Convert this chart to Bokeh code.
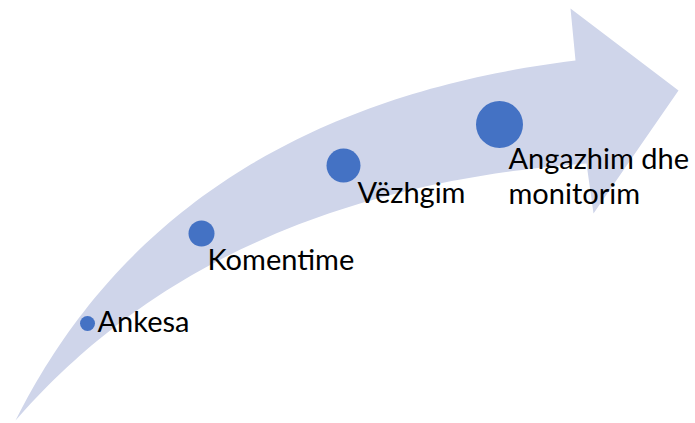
import numpy as np
from bokeh.plotting import figure
from bokeh.models import Range1d
from bokeh.core.properties import value
from bokeh.embed import file_html
from bokeh.resources import INLINE

# Steps of the process (labels, circle positions and sizes)
labels = ["Ankesa", "Komentime", "Vëzhgim", "Angazhim dhe\nmonitorim"]
circle_x = [87, 201, 343, 499]
circle_y = [323, 233, 165, 124]
circle_r = [7.5, 13, 17, 23.5]
label_x = [97, 207, 357, 508]
label_y = [331, 269, 202, 168]   # baseline of first line
line_gap = 35
baseline_shift = -11   # Bokeh's alphabetic baseline sits lower than the reference's

# Arrow outline (bezier control points of the shaft edges, and the head)
upper_edge = [(15, 420), (170, 110), (575, 60)]
lower_edge = [(15, 420), (215, 190), (586, 163)]
head = [(575, 60), (570, 8), (678, 90), (593, 213), (586, 163)]


def qbez(pts, n=80):
    t = np.linspace(0, 1, n)[:, None]
    p0, p1, p2 = (np.array(p, dtype=float) for p in pts)
    return (1 - t) ** 2 * p0 + 2 * t * (1 - t) * p1 + t ** 2 * p2


up = qbez(upper_edge)
lo = qbez(lower_edge)
hx = [h[0] for h in head]
hy = [h[1] for h in head]
xs = list(up[:, 0]) + hx[1:-1] + list(lo[::-1, 0])
ys = list(up[:, 1]) + hy[1:-1] + list(lo[::-1, 1])

p = figure(width=695, height=423, output_backend="svg", toolbar_location=None,
           x_range=Range1d(0, 695), y_range=Range1d(423, 0), min_border=0)
p.axis.visible = False
p.grid.visible = False
p.outline_line_color = None
p.background_fill_color = "white"

p.patch(xs, ys, fill_color="#CFD5EA", line_color=None)

p.circle(x=circle_x, y=circle_y, radius=circle_r, fill_color="#4472C4", line_color=None)

tx, ty, tt = [], [], []
for lab, x0, y0 in zip(labels, label_x, label_y):
    for i, line in enumerate(lab.split("\n")):
        tx.append(x0)
        ty.append(y0 + i * line_gap + baseline_shift)
        tt.append(line)

p.text(x=tx, y=ty, text=tt, text_font=value("Lato"),
       text_font_size="29px", text_color="black", text_baseline="alphabetic",
       text_align="left")

open("out.html", "w").write(file_html(p, INLINE))
